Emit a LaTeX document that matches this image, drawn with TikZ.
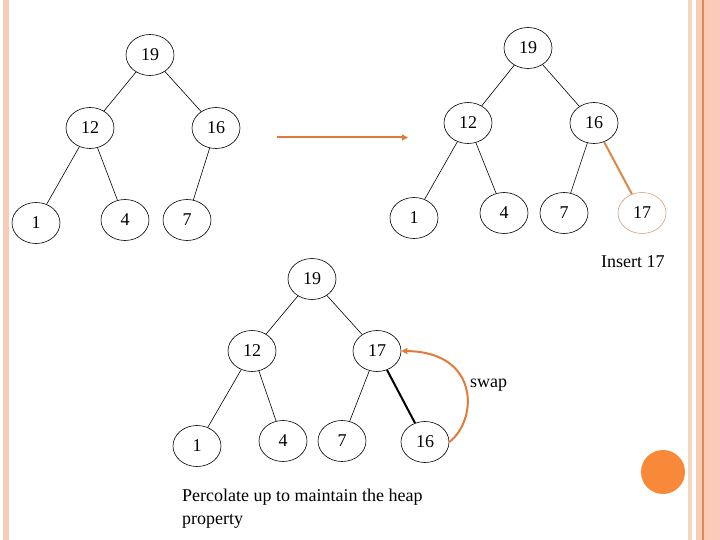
\documentclass[tikz,border=0pt]{standalone}
\usepackage{fontspec}
\setmainfont{Liberation Serif}
\usetikzlibrary{shapes.geometric,arrows.meta}
\definecolor{stripepeach}{HTML}{F8CBB6}
\definecolor{stripelight}{HTML}{F9D3C3}
\definecolor{stripepink}{HTML}{FDC9BA}
\definecolor{stripedark}{HTML}{D98A5A}
\definecolor{swaporange}{HTML}{E07B39}
\definecolor{insertorange}{HTML}{D9884A}
\definecolor{inserttan}{HTML}{D2A27E}
\definecolor{dotorange}{HTML}{F8883A}
\tikzset{
	heapnode/.style={draw, ellipse, line width=0.6pt, minimum width=48pt, minimum height=41pt, inner sep=0pt, font=\fontsize{18}{21}\selectfont},
	heapedge/.style={line width=0.6pt},
	notetext/.style={inner sep=0pt, font=\fontsize{18}{23}\selectfont}
}

\begin{document}
\begin{tikzpicture}[x=1pt, y=-1pt]
			%%%%% START %%%%%
			\useasboundingbox (0, 0) rectangle (720, 540);
			
			% border stripes
			\fill[stripepeach] (3, 0) rectangle (9, 540);
			\fill[stripelight] (688, 0) rectangle (692, 540);
			\fill[stripepeach] (696, 0) rectangle (702, 540);
			\fill[stripedark] (702, 0) rectangle (703.5, 540);
			\fill[stripepeach] (703.5, 0) rectangle (709, 540);
			\fill[stripepink] (709, 0) rectangle (720, 540);
			\fill[dotorange] (663, 472) circle (22);
			
			% heap before insert
			\node[heapnode] (l19) at (150, 55) {19};
			\node[heapnode] (l12) at (90, 128) {12};
			\node[heapnode] (l16) at (216, 128) {16};
			\node[heapnode] (l1) at (36, 223) {1};
			\node[heapnode] (l4) at (125, 220) {4};
			\node[heapnode] (l7) at (187, 220) {7};
			\draw[heapedge] (l19) -- (l12);
			\draw[heapedge] (l19) -- (l16);
			\draw[heapedge] (l12) -- (l1);
			\draw[heapedge] (l12) -- (l4);
			\draw[heapedge] (l16) -- (l7);
			
			\coordinate (stepfrom) at (277, 137.5);
			\coordinate (stepto) at (408, 137.5);
			\draw[line width=2pt, color=swaporange, -{Triangle[length=6pt, width=6pt]}] (stepfrom) -- (stepto);
			
			% heap after insert
			\node[heapnode] (r19) at (528, 48) {19};
			\node[heapnode] (r12) at (468, 123) {12};
			\node[heapnode] (r16) at (594, 123) {16};
			\node[heapnode] (r1) at (414, 218) {1};
			\node[heapnode] (r4) at (504, 213) {4};
			\node[heapnode] (r7) at (564, 213) {7};
			\node[heapnode, draw=inserttan] (r17) at (642, 213) {17};
			\draw[heapedge] (r19) -- (r12);
			\draw[heapedge] (r19) -- (r16);
			\draw[heapedge] (r12) -- (r1);
			\draw[heapedge] (r12) -- (r4);
			\draw[heapedge] (r16) -- (r7);
			\draw[line width=2pt, color=insertorange] (r16) -- (r17);
			\node[notetext, anchor=base west] (insertlabel) at (601, 267) {Insert 17};
			
			% heap after swap
			\node[heapnode] (b19) at (312, 279) {19};
			\node[heapnode] (b12) at (252, 351) {12};
			\node[heapnode] (b17) at (377, 351) {17};
			\node[heapnode] (b1) at (197, 446) {1};
			\node[heapnode] (b4) at (283, 441) {4};
			\node[heapnode] (b7) at (342, 441) {7};
			\node[heapnode] (b16) at (425, 442) {16};
			\draw[heapedge] (b19) -- (b12);
			\draw[heapedge] (b19) -- (b17);
			\draw[heapedge] (b12) -- (b1);
			\draw[heapedge] (b12) -- (b4);
			\draw[heapedge] (b17) -- (b7);
			\draw[line width=2pt] (b17) -- (b16);
			
			\draw[line width=2pt, color=swaporange, -{Triangle[length=6pt, width=6pt]}] (b16.east) .. controls (478, 420) and (480, 352) .. (b17.east);
			\node[notetext, anchor=base west] (swaplabel) at (470, 387) {swap};
			
			\node[notetext, anchor=north west, align=left] (percolate) at (182, 489) {Percolate up to maintain the heap\\property};
			%%%%% END %%%%%
\end{tikzpicture}
\end{document}
